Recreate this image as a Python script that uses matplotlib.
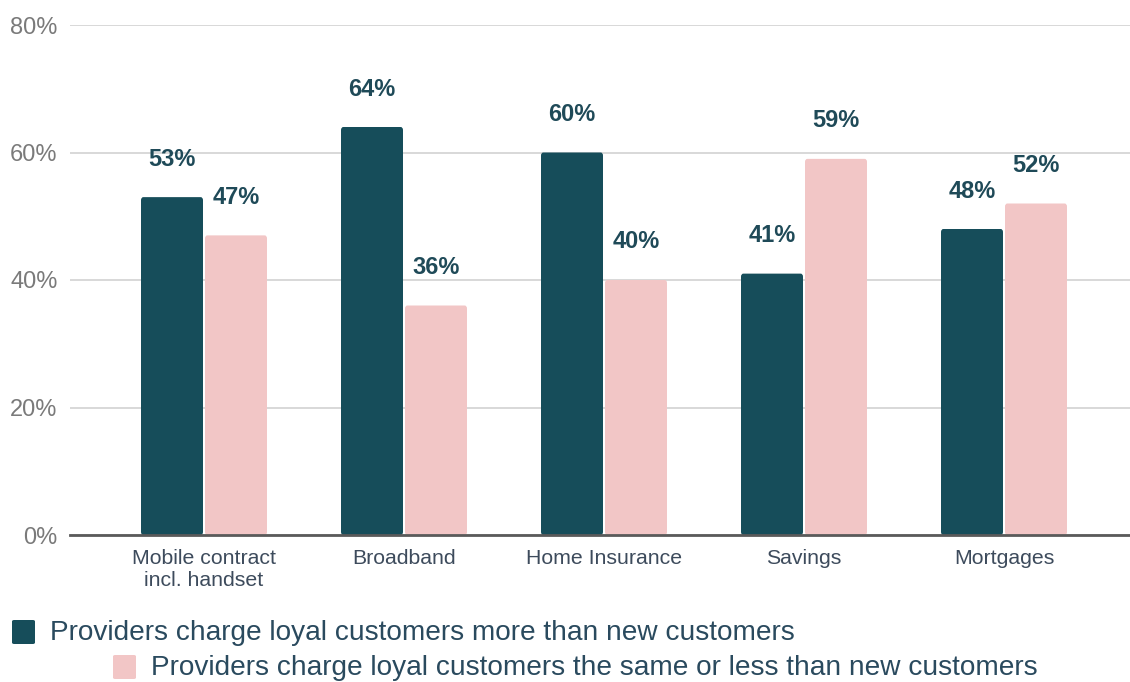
import matplotlib
matplotlib.use("Agg")
import matplotlib.pyplot as plt
from matplotlib.patches import FancyBboxPatch
import numpy as np

plt.rcParams['font.family'] = ['Liberation Sans', 'DejaVu Sans']

categories = ["Mobile contract\nincl. handset", "Broadband", "Home Insurance", "Savings", "Mortgages"]
more_than_new = [53, 64, 60, 41, 48]
same_or_less = [47, 36, 40, 59, 52]
series_labels = ["Providers charge loyal customers more than new customers",
                 "Providers charge loyal customers the same or less than new customers"]
y_ticks = [0, 20, 40, 60, 80]
y_tick_labels = ["0%", "20%", "40%", "60%", "80%"]

DARK = "#164d5a"
PINK = "#f2c6c6"
TEXT_DARK = "#1f4a58"
TICK_GRAY = "#7a7a7a"
CAT_COLOR = "#3d4b5c"

fig = plt.figure(figsize=(11.3, 6.82), dpi=100)
ax = fig.add_axes([70 / 1130, 1 - 535 / 682, 1 - 70 / 1130, (535 - 25) / 682])

x = np.arange(len(categories))
width = 0.31
offset = 0.16

def draw_bars(xs, vals, color):
    for xi, v in zip(xs, vals):
        p = FancyBboxPatch((xi - width / 2, 0), width, v,
                           boxstyle="round,pad=0,rounding_size=0.012",
                           mutation_aspect=40, linewidth=0, facecolor=color,
                           zorder=3)
        ax.add_patch(p)
        ax.annotate(f"{v}%", xy=(xi, v), xytext=(0, 38), textcoords="offset pixels",
                    ha="center", va="center", fontsize=17, fontweight="bold",
                    color=TEXT_DARK, zorder=4)

draw_bars(x - offset, more_than_new, DARK)
draw_bars(x + offset, same_or_less, PINK)

ax.set_xlim(-0.67, 4.63)
ax.set_ylim(0, 80)
ax.set_yticks(y_ticks)
ax.set_yticklabels(y_tick_labels, fontsize=17, color=TICK_GRAY)
ax.set_xticks(x)
ax.set_xticklabels(categories, fontsize=15.3, color=CAT_COLOR, linespacing=1.2)
ax.tick_params(axis="both", length=0)
ax.tick_params(axis="y", pad=9)
ax.tick_params(axis="x", pad=10)
ax.grid(axis="y", color="#d6d6d6", linewidth=1.3, zorder=0)
ax.set_axisbelow(True)
for s in ["top", "right", "left"]:
    ax.spines[s].set_visible(False)
ax.spines["bottom"].set_color("#5a5a5a")
ax.spines["bottom"].set_linewidth(2)
ax.spines["bottom"].set_zorder(5)

# Staggered legend entries below the chart
entries = [(12, 620, DARK, series_labels[0]), (113, 655, PINK, series_labels[1])]
for px, py, col, lab in entries:
    fig.patches.append(FancyBboxPatch((px / 1130, 1 - (py + 24) / 682), 23 / 1130, 24 / 682,
                                      boxstyle="round,pad=0,rounding_size=0.002",
                                      transform=fig.transFigure, facecolor=col,
                                      linewidth=0, figure=fig))
    fig.text((px + 38) / 1130, 1 - (py + 13) / 682, lab, fontsize=20.2,
             color="#2a4a5e", ha="left", va="center")

fig.savefig("out.png", dpi=100, facecolor="white")
